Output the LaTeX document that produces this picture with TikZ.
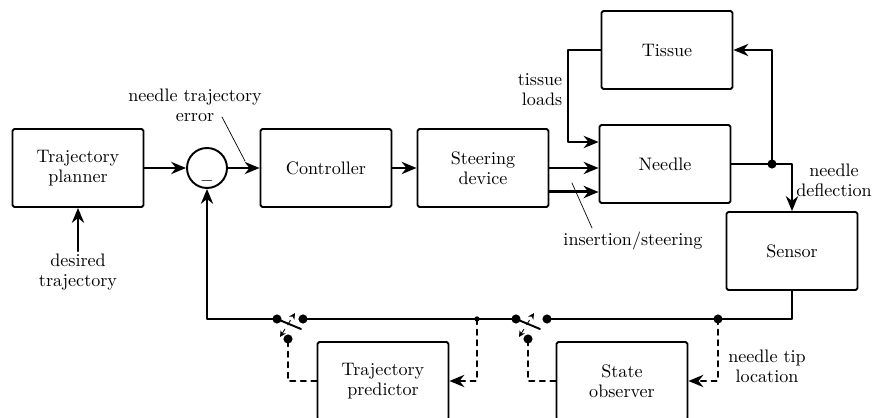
\documentclass[tikz,border=0pt]{standalone}
\usetikzlibrary{arrows.meta}
\begin{document}
\begin{tikzpicture}[x=0.02cm, y=-0.02cm, line width=1.1pt, line join=round, line cap=round,
    >={Stealth[length=8.5pt,width=7pt]},
    font=\fontsize{10.3}{11.5}\selectfont,
    block/.style={draw, rounded corners=1pt, minimum width=2.62cm, minimum height=1.56cm, align=center},
    lbl/.style={align=center, inner sep=1pt},
    pointer/.style={line width=0.4pt},
    toggle/.style={dashed, line width=0.5pt, <->, >={Stealth[length=3.5pt,width=3.5pt]}}]
	\useasboundingbox (0,0) rectangle (877,418);
	\clip (0,0) rectangle (877,418);
	% blocks
	\node[block] (plan) at (78,168) {Trajectory\\planner};
	\node[draw, circle, minimum size=0.8cm, inner sep=0pt] (sum) at (207,168) {};
	\node[inner sep=0pt] (minus) at ([yshift=-0.27cm]sum.center) {$-$};
	\node[block] (ctrl) at (326,168) {Controller};
	\node[block] (steer) at (483,168) {Steering\\device};
	\node[block] (needle) at (665,164) {Needle};
	\node[block] (tissue) at (667,50) {Tissue};
	\node[block] (sensor) at (792,251) {Sensor};
	\node[block] (pred) at (383,381) {Trajectory\\predictor};
	\node[block] (obs) at (622,381) {State\\observer};
	% labels
	\node[lbl] (errlbl) at (195,105) {needle trajectory\\error};
	\node[lbl] (deslbl) at (78,272) {desired\\trajectory};
	\node[lbl, align=right, anchor=east] (loadlbl) at (565,90) {tissue\\loads};
	\node[lbl] (deflbl) at (834,180) {needle\\deflection};
	\node[lbl] (inslbl) at (633,241) {insertion/steering};
	\node[lbl] (tiplbl) at (767,366) {needle tip\\location};
	% branch points and switch contacts
	\coordinate (split) at (772,164);
	\coordinate (s1a) at (277,319); \coordinate (s1b) at (303,319); \coordinate (s1c) at (288,339);
	\coordinate (s2a) at (516,319); \coordinate (s2b) at (547,319); \coordinate (s2c) at (528,339);
	\coordinate (tap) at (718,319);
	\coordinate (pick) at (477,319);
	\coordinate (ins) at ([yshift=-0.48cm]steer.east);
	% forward path
	\draw[->] (deslbl.north) -- (plan.south);
	\draw[->] (plan) -- (sum);
	\draw[->] (sum) -- (ctrl);
	\draw[->] (ctrl) -- (steer);
	\draw[->] (steer.east) -- (steer.east -| needle.west);
	\draw[->, line width=1.7pt] (ins) -- (ins -| needle.west);
	\draw[->] (tissue.west) -- ++(-33,0) |- ([yshift=0.44cm]needle.west);
	\draw (needle.east) -- (split);
	\draw[->] (split) |- (tissue.east);
	\draw[->] (split) -| (sensor.north);
	\fill (split) circle (2.6pt);
	% feedback path
	\draw (sensor.south) |- (s2b);
	\draw (s2a) -- (s1b);
	\draw[->] (s1a) -| (sum.south);
	\draw[dashed, ->] (tap) |- (obs.east);
	\draw[dashed] (obs.west) -| (s2c);
	\draw[dashed, ->] (pick) |- (pred.east);
	\draw[dashed] (pred.west) -| (s1c);
	\foreach \d in {s1a,s1b,s1c,s2a,s2b,s2c,tap}
		\fill (\d) circle (2.6pt);
	\fill (pick) circle (1.5pt);
	% switches
	\foreach \s in {s1,s2} {
		\draw (\s a) -- ++(24,10);
		\draw[toggle] ([shift={(3,18)}]\s a) -- ++(15,-24);
	}
	% pointers
	\draw[pointer] ([shift={(27,12)}]errlbl.center) -- ++(23,44);
	\draw[pointer] ([shift={(-41,-13)}]inslbl.center) -- ++(-20,-45);
\end{tikzpicture}
\end{document}
